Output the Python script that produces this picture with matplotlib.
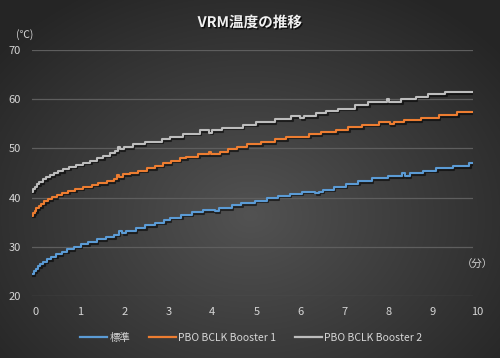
import numpy as np
import matplotlib
matplotlib.use("Agg")
import matplotlib.pyplot as plt
import matplotlib.patheffects as pe
import matplotlib.transforms as mtransforms

plt.rcParams['font.family'] = ['Noto Sans CJK JP', 'DejaVu Sans']

title = "VRM温度の推移"
series_names = ["標準", "PBO BCLK Booster 1", "PBO BCLK Booster 2"]
colors = ["#5B9BD5", "#ED7D31", "#BDBDBD"]

# time (minutes) where the reading changes, and the reading (°C)
t_std = [0.00, 0.04, 0.08, 0.13, 0.19, 0.26, 0.34, 0.44, 0.55, 0.67, 0.80, 0.95, 1.10, 1.28, 1.47, 1.67,
         1.87, 1.97, 2.05, 2.13, 2.35, 2.57, 2.80, 3.00, 3.12, 3.39, 3.62, 3.87, 4.15, 4.24, 4.53, 4.75,
         5.05, 5.32, 5.57, 5.85, 6.12, 6.42, 6.50, 6.60, 6.84, 7.11, 7.40, 7.71, 8.07, 8.40, 8.46, 8.57,
         8.87, 9.17, 9.54, 9.92, 10.00]
v_std = [24.5, 25.0, 25.5, 26.0, 26.5, 27.0, 27.5, 28.0, 28.5, 29.0, 29.5, 30.0, 30.5, 31.0, 31.5, 32.0,
         32.5, 33.2, 32.8, 33.2, 33.8, 34.4, 34.9, 35.4, 35.9, 36.5, 37.0, 37.5, 37.2, 37.8, 38.5, 38.9,
         39.4, 39.9, 40.4, 40.8, 41.2, 40.9, 41.2, 41.6, 42.2, 42.8, 43.3, 43.9, 44.4, 44.9, 44.4, 44.9,
         45.5, 46.0, 46.4, 47.0, 47.0]

t_b1 = [0.00, 0.03, 0.06, 0.10, 0.15, 0.21, 0.28, 0.36, 0.45, 0.56, 0.68, 0.82, 0.98, 1.15, 1.35, 1.50,
        1.70, 1.85, 1.93, 1.98, 2.06, 2.22, 2.40, 2.60, 2.80, 2.97, 3.15, 3.35, 3.50, 3.77, 4.02, 4.06,
        4.26, 4.44, 4.64, 4.87, 5.20, 5.50, 5.77, 6.29, 6.55, 6.90, 7.17, 7.49, 7.87, 8.12, 8.20, 8.44,
        8.82, 9.23, 9.64, 10.00]
v_b1 = [36.3, 36.8, 37.3, 37.8, 38.3, 38.8, 39.3, 39.7, 40.1, 40.6, 41.0, 41.4, 41.8, 42.2, 42.6, 43.0,
        43.4, 43.8, 44.6, 44.2, 44.7, 45.0, 45.5, 46.0, 46.5, 47.0, 47.5, 48.0, 48.3, 48.8, 49.2, 48.8,
        49.3, 49.8, 50.3, 50.8, 51.3, 51.9, 52.4, 52.9, 53.3, 53.7, 54.3, 54.8, 55.3, 54.9, 55.3, 55.8,
        56.2, 56.8, 57.3, 57.3]

t_b2 = [0.00, 0.03, 0.06, 0.11, 0.17, 0.24, 0.32, 0.41, 0.50, 0.60, 0.71, 0.85, 1.00, 1.15, 1.32, 1.47,
        1.62, 1.77, 1.88, 1.94, 1.99, 2.08, 2.29, 2.56, 2.94, 3.12, 3.42, 3.80, 4.02, 4.08, 4.30, 4.78,
        5.09, 5.50, 5.88, 6.08, 6.16, 6.45, 6.67, 6.93, 7.33, 7.63, 8.05, 8.09, 8.37, 8.71, 8.97, 9.37,
        10.00]
v_b2 = [41.2, 41.7, 42.2, 42.7, 43.2, 43.7, 44.2, 44.6, 45.0, 45.4, 45.9, 46.3, 46.7, 47.1, 47.5, 48.0,
        48.5, 49.0, 49.4, 50.2, 49.8, 50.3, 50.8, 51.4, 51.9, 52.3, 53.0, 53.7, 53.2, 53.7, 54.2, 54.8,
        55.3, 55.9, 56.6, 56.1, 56.6, 57.1, 57.7, 58.1, 58.8, 59.4, 60.0, 59.4, 60.0, 60.5, 61.0, 61.4,
        61.4]

x_ticks = list(range(0, 11))
y_ticks = [20, 30, 40, 50, 60, 70]

W, H = 500, 358
fig = plt.figure(figsize=(W / 100, H / 100), dpi=100)

# radial gradient background
bg = fig.add_axes([0, 0, 1, 1], zorder=-10)
yy, xx = np.mgrid[0:H, 0:W]
d = np.sqrt(((xx - 250) / 330.0) ** 2 + ((yy - 215) / 260.0) ** 2)
d = np.clip(d, 0, 1)
c_in, c_out = 0x52 / 255, 0x25 / 255
img = c_in + (c_out - c_in) * d
bg.imshow(np.dstack([img, img, img]), aspect='auto', extent=[0, 1, 0, 1], interpolation='bilinear')
bg.set_axis_off()

ax = fig.add_axes([32 / W, 1 - 296 / H, (473 - 32) / W, (296 - 50) / H])
ax.set_facecolor('none')
ax.set_xlim(0, 10)
ax.set_ylim(20, 70)
ax.set_xticks(x_ticks)
ax.set_yticks(y_ticks)
for s in ax.spines.values():
    s.set_visible(False)
ax.tick_params(axis='both', length=0, colors='#D6D6D6', labelsize=8)
ax.tick_params(axis='y', pad=8)
ax.tick_params(axis='x', pad=8)
offset = mtransforms.ScaledTranslation(4 / 100, 0, fig.dpi_scale_trans)
for lab in ax.get_xticklabels():
    lab.set_transform(lab.get_transform() + offset)
ax.grid(axis='y', color='#5E5E5E', linewidth=0.9)
ax.set_axisbelow(True)

shadow = [pe.SimpleLineShadow(offset=(1.0, -1.2), shadow_color='black', alpha=0.55), pe.Normal()]
for t, v, name, c in zip([t_std, t_b1, t_b2], [v_std, v_b1, v_b2], series_names, colors):
    ax.plot(t, v, drawstyle='steps-post', color=c, linewidth=1.5, label=name, path_effects=shadow)

fig.text(0.5, 1 - 22 / H, title, ha='center', va='center', fontsize=10.5, fontweight='bold',
         color='#F2F2F2',
         path_effects=[pe.SimplePatchShadow(offset=(1, -1), shadow_rgbFace='black', alpha=0.7), pe.Normal()])
fig.text(25 / W, 1 - 35 / H, "(℃)", ha='center', va='center', fontsize=7.5, color='#D6D6D6')
fig.text(477 / W, 1 - 265 / H, "（分）", ha='center', va='center', fontsize=7.5, color='#D6D6D6')

leg = fig.legend(loc='center', bbox_to_anchor=(0.502, 1 - 338 / H), ncol=3, frameon=False,
                 fontsize=7.5, handlelength=2.6, handletextpad=0.2, columnspacing=1.8)
for txt in leg.get_texts():
    txt.set_color('#D6D6D6')
for h in leg.legend_handles:
    h.set_path_effects([])
    h.set_linewidth(1.6)

fig.savefig("out.png", dpi=100)
